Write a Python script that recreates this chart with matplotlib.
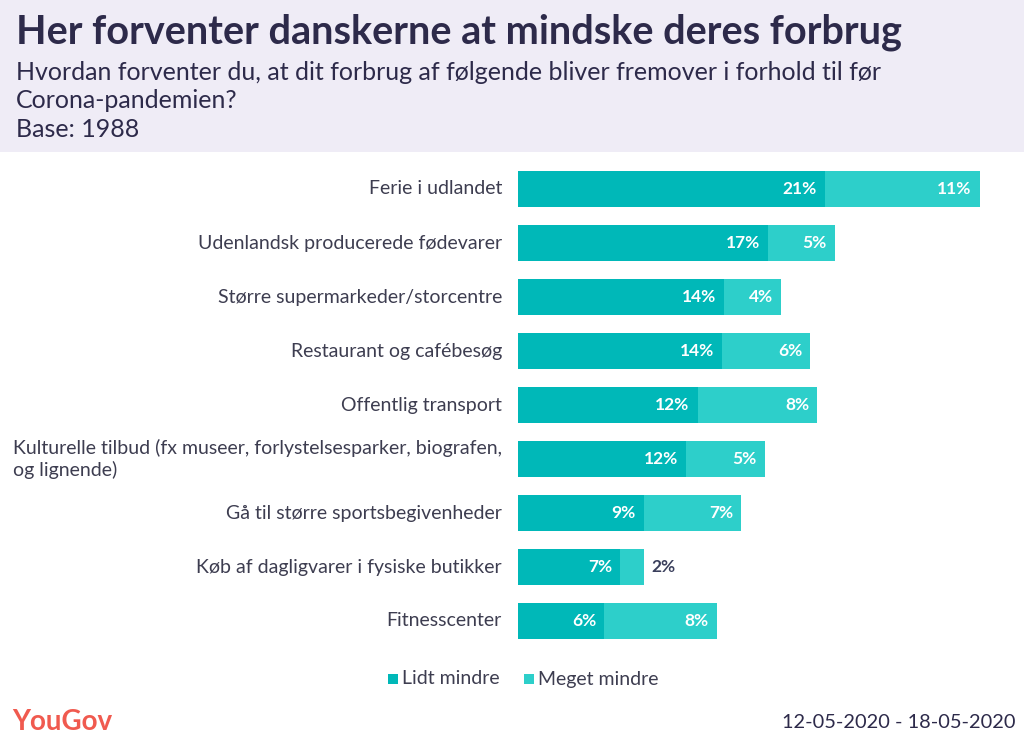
import matplotlib.pyplot as plt
from matplotlib.patches import Rectangle

# Data
categories = [
    "Ferie i udlandet",
    "Udenlandsk producerede fødevarer",
    "Større supermarkeder/storcentre",
    "Restaurant og cafébesøg",
    "Offentlig transport",
    "Kulturelle tilbud (fx museer, forlystelsesparker, biografen,\nog lignende)",
    "Gå til større sportsbegivenheder",
    "Køb af dagligvarer i fysiske butikker",
    "Fitnesscenter",
]
lidt_mindre = [21.0, 17.1, 14.1, 14.0, 12.3, 11.5, 8.6, 7.0, 5.9]
meget_mindre = [10.6, 4.6, 3.9, 6.0, 8.2, 5.4, 6.7, 1.6, 7.7]
series_names = ["Lidt mindre", "Meget mindre"]

DARK = "#00b8b8"
LIGHT = "#2dcfca"
TITLE_COL = "#2d2a4a"
TEXT_COL = "#3d3d50"

W, H = 1024, 743
fig = plt.figure(figsize=(W / 100, H / 100), dpi=100)
plt.rcParams['font.family'] = ['Lato', 'DejaVu Sans']

# header band
fig.patches.append(Rectangle((0, 1 - 152 / H), 1, 152 / H, transform=fig.transFigure,
                             facecolor="#efecf6", edgecolor="none", zorder=0))
fig.text(16 / W, 1 - 32 / H, "Her forventer danskerne at mindske deres forbrug",
         fontsize=28.5, fontweight="bold", color=TITLE_COL, va="center")
sub = "Hvordan forventer du, at dit forbrug af følgende bliver fremover i forhold til før\nCorona-pandemien?\nBase: 1988"
fig.text(16 / W, 1 - 101 / H, sub, fontsize=18, color=TITLE_COL, va="center",
         linespacing=1.3)

# bars axes
left = 518 / W
ax = fig.add_axes([left, 1 - 648 / H, 482 / W, (648 - 162) / H])
y = list(range(len(categories)))
ax.barh(y, lidt_mindre, height=0.667, color=DARK, label=series_names[0])
ax.barh(y, meget_mindre, left=lidt_mindre, height=0.667, color=LIGHT, label=series_names[1])
ax.set_xlim(0, 33)
ax.set_ylim(len(categories) - 0.5, -0.5)
ax.axis("off")

px = 33 / 482  # data units per pixel
for i, (a, b) in enumerate(zip(lidt_mindre, meget_mindre)):
    ax.text(a - 8 * px, i, f"{round(a)}%", ha="right", va="center", color="white",
            fontsize=12.5, fontweight="bold")
    if b >= 3:
        ax.text(a + b - 8 * px, i, f"{round(b)}%", ha="right", va="center", color="white",
                fontsize=12.5, fontweight="bold")
    else:
        ax.text(a + b + 8 * px, i, f"{round(b)}%", ha="left", va="center", color="#3a3f5c",
                fontsize=12.5, fontweight="bold")
    ax.text(-16 * px, i, categories[i], ha="right", va="center", color=TEXT_COL,
            fontsize=14, multialignment="left", linespacing=1.2)

# legend
leg_y = 1 - 679 / H
for x0, col, name in [(388, DARK, series_names[0]), (524, LIGHT, series_names[1])]:
    fig.patches.append(Rectangle((x0 / W, leg_y - 5 / H), 10 / W, 10 / H,
                                 transform=fig.transFigure, facecolor=col, edgecolor="none"))
    fig.text((x0 + 14) / W, leg_y, name, fontsize=14, color=TEXT_COL, va="center")

# footer
fig.text(12 / W, 1 - 722 / H, "YouGov", fontsize=20, fontweight="bold", color="#f05a4f",
         va="center")
fig.text(1016 / W, 1 - 722 / H, "12-05-2020 - 18-05-2020", fontsize=14.4, color=TITLE_COL,
         ha="right", va="center")

fig.savefig("out.png", dpi=100)
